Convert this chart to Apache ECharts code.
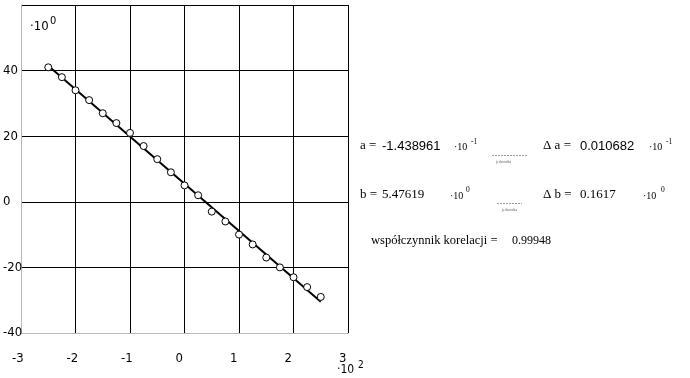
<!DOCTYPE html>
<html>
<head>
<meta charset="utf-8">
<script src="https://cdn.jsdelivr.net/npm/echarts@6/dist/echarts.min.js"></script>
<style>
html,body{margin:0;padding:0;background:#fff;}
#chart{width:690px;height:378px;}
</style>
</head>
<body>
<div id="chart"></div>
<script>
// x in units of 10^2, y in units of 10^0
const xValues = [-2.5,-2.25,-2,-1.75,-1.5,-1.25,-1,-0.75,-0.5,-0.25,0,0.25,0.5,0.75,1,1.25,1.5,1.75,2,2.25,2.5];
const yValues = [41,38,34,31,27,24,21,17,13,9,5,2,-3,-6,-10,-13,-17,-20,-23,-26,-29];
const xTickLabels = ['-3','-2','-1','0','1','2','3'];
const yTickLabels = ['-40','-20','0','20','40'];
// fit parameters (a in 10^-1 per unit, b in 10^0)
const fitA = -1.438961e-1;
const fitB = 5.47619;
const fitDA = 0.010682;
const fitDB = 0.1617;
const corr = 0.99948;

const AXIS_TEAL = '#80d0d0';
const narrow = '"Liberation Sans Narrow", "DejaVu Sans Condensed", "Arial Narrow", sans-serif';
const sans = '"Liberation Sans", Arial, sans-serif';
const serif = '"Liberation Serif", "Times New Roman", serif';

const pts = xValues.map((x, i) => [x, yValues[i]]);
const x0 = xValues[0], x1 = xValues[xValues.length - 1];
const fitLine = [[x0, fitB + fitA * x0 * 100], [x1, fitB + fitA * x1 * 100]];

function txt(x, y, text, size, font, fill) {
  return {
    type: 'text', x: x, y: y, silent: true,
    style: { text: text, fill: fill || '#000', font: size + 'px ' + font, align: 'left', verticalAlign: 'middle' }
  };
}

const graphics = [
  txt(30, 27, '·10', 13, narrow),
  txt(50, 21, '0', 11, narrow),
  txt(337, 370, '·10', 12, narrow),
  txt(358, 365, '2', 10, narrow),
  // row a
  txt(360, 146, 'a =', 13, serif),
  txt(382, 146, (fitA * 10).toFixed(6), 13, sans),
  txt(454, 147, '·10', 10, serif),
  txt(471, 142, '-1', 7.5, serif),
  { type: 'line', silent: true, shape: { x1: 492, y1: 155.5, x2: 527, y2: 155.5 }, style: { stroke: '#999', lineWidth: 1, lineDash: [2, 1] } },
  txt(496, 162, 'jednostka', 4, serif, '#666'),
  txt(543, 146, 'Δ a =', 13, serif),
  txt(580, 146, fitDA.toFixed(6), 13, sans),
  txt(649, 147, '·10', 10, serif),
  txt(666, 142, '-1', 7.5, serif),
  // row b
  txt(360, 195, 'b =', 13, serif),
  txt(382, 195, fitB + '', 13, serif),
  txt(450, 196, '·10', 10, serif),
  txt(466, 190, '0', 7.5, serif),
  { type: 'line', silent: true, shape: { x1: 497, y1: 203.5, x2: 522, y2: 203.5 }, style: { stroke: '#999', lineWidth: 1, lineDash: [2, 1] } },
  txt(502, 210, 'jednostka', 4, serif, '#666'),
  txt(543, 195, 'Δ b =', 13, serif),
  txt(580, 195, fitDB + '', 13, serif),
  txt(643, 196, '·10', 10, serif),
  txt(661, 190, '0', 7.5, serif),
  // row corr
  txt(371, 241, 'współczynnik korelacji =', 12.5, serif),
  txt(512, 241, corr + '', 12, serif)
];

const chart = echarts.init(document.getElementById('chart'), null, { renderer: 'canvas' });
chart.setOption({
  animation: false,
  backgroundColor: '#fff',
  grid: { left: 20, top: 5, width: 328, height: 328, containLabel: false },
  xAxis: {
    type: 'value', min: -3, max: 3, interval: 1,
    axisLine: { show: true, onZero: false, lineStyle: { color: AXIS_TEAL, width: 1 } },
    axisTick: { show: false },
    splitLine: { show: true, lineStyle: { color: '#000', width: 1 } },
    axisLabel: {
      color: '#000', margin: 19,
      formatter: v => '{t|' + xTickLabels[Math.round(v + 3)] + '}',
      rich: { t: { width: 18, align: 'left', padding: [0, 0, 0, 0], fontSize: 13, fontFamily: narrow, color: '#000' } }
    }
  },
  yAxis: {
    type: 'value', min: -40, max: 60, interval: 20,
    axisLine: { show: true, onZero: false, lineStyle: { color: AXIS_TEAL, width: 1 } },
    axisTick: { show: false },
    splitLine: { show: true, lineStyle: { color: '#000', width: 1 } },
    axisLabel: {
      color: '#000', fontSize: 13, fontFamily: narrow, margin: 18, align: 'left',
      formatter: v => { const i = Math.round((v + 40) / 20); return i < yTickLabels.length ? yTickLabels[i] : ''; }
    }
  },
  series: [
    {
      type: 'line', data: fitLine, symbol: 'none', z: 2,
      lineStyle: { color: '#000', width: 2 }
    },
    {
      type: 'scatter', data: pts, symbol: 'circle', symbolSize: 7, z: 3,
      itemStyle: { color: '#fff', borderColor: '#000', borderWidth: 1, opacity: 1 }
    }
  ],
  graphic: graphics
});
</script>
</body>
</html>
